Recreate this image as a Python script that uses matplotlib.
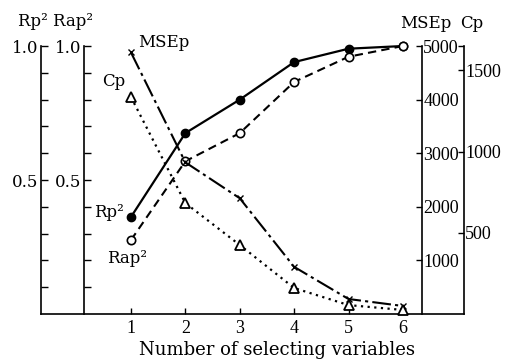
import matplotlib
matplotlib.use("Agg")
import matplotlib.pyplot as plt
from matplotlib.ticker import FixedLocator

plt.rcParams['font.family'] = ['DejaVu Serif']

n_vars = [1, 2, 3, 4, 5, 6]
rp2 = [0.362, 0.675, 0.80, 0.94, 0.99, 1.0]
rap2 = [0.276, 0.57, 0.675, 0.866, 0.96, 1.0]
msep = [4880, 2830, 2160, 880, 280, 150]
cp = [1336, 683, 425, 160, 55, 25]

fs = 12
num_font = dict(family='Liberation Serif', size=13)

fig = plt.figure(figsize=(5.07, 3.59), dpi=100)
ax = fig.add_axes([0.0809, 0.1253, 0.834, 0.7465])
ax.set_xlim(-0.654, 7.121)
ax.set_ylim(0, 1.0)
ax.patch.set_visible(False)

# left axes: Rp2 (axes edge) and Rap2 (inner spine)
ax_rap = ax.twinx()
ax_mse = ax.twinx()
ax_cp = ax.twinx()

for a in (ax, ax_rap, ax_mse, ax_cp):
    for s in a.spines.values():
        s.set_visible(False)
        s.set_linewidth(1.2)

ax.spines['left'].set_visible(True)
ax.spines['bottom'].set_visible(True)

ax_rap.yaxis.tick_left()
ax_rap.spines['left'].set_visible(True)
ax_rap.spines['left'].set_position(('axes', 0.1017))
ax_rap.set_ylim(0, 1.0)

ax_mse.spines['right'].set_visible(True)
ax_mse.spines['right'].set_position(('axes', 0.9007))
ax_mse.set_ylim(0, 5000)

ax_cp.spines['right'].set_visible(True)
ax_cp.set_ylim(0, 1650)

for a in (ax, ax_rap):
    a.yaxis.set_major_locator(FixedLocator([0.5, 1.0]))
    a.yaxis.set_minor_locator(FixedLocator([0.1, 0.2, 0.3, 0.4, 0.6, 0.7, 0.8, 0.9]))
    a.set_yticklabels(['0.5', '1.0'])
    a.tick_params(axis='y', which='both', direction='in', length=5, width=1,
                  pad=2, labelsize=fs)

ax_mse.set_yticks([1000, 2000, 3000, 4000, 5000])
ax_mse.set_yticklabels(['1000', '2000', '3000', '4000', '5000'], fontdict=num_font)
ax_mse.tick_params(axis='y', direction='in', length=4, width=1, pad=1)
ax_cp.set_yticks([500, 1000, 1500])
ax_cp.set_yticklabels(['500', '1000', '1500'], fontdict=num_font)
ax_cp.yaxis.set_minor_locator(FixedLocator([1650]))
ax_cp.tick_params(axis='y', which='both', direction='in', length=4, width=1, pad=1)

ax.set_xticks(n_vars)
ax.set_xticklabels([str(v) for v in n_vars], fontdict=num_font)
ax.tick_params(axis='x', direction='in', length=4, width=1, pad=4)
ax.set_xlabel('Number of selecting variables', fontsize=13)
ax.xaxis.label.set_va('center')
ax.xaxis.set_label_coords(0.559, -0.134)

ax.plot(n_vars, rp2, '-', color='black', lw=1.6, marker='o', ms=6,
        mfc='black', mec='black', clip_on=False, zorder=5)
ax.plot(n_vars, rap2, color='black', lw=1.5, ls=(0, (4, 2.5)), marker='o', ms=6,
        mfc='white', mec='black', mew=1.2, clip_on=False, zorder=5)
ax_mse.plot(n_vars, msep, color='black', lw=1.5, ls=(0, (9, 2, 1.5, 2)), marker='x',
            ms=5, mew=1, clip_on=False, zorder=5)
ax_cp.plot(n_vars, cp, color='black', lw=1.6, ls=(0, (1, 2)), marker='^', ms=7,
           mfc='white', mec='black', mew=1.3, clip_on=False, zorder=5)

ax_mse.annotate('MSEp', (n_vars[0], msep[0]), xytext=(5, 1), textcoords='offset points',
                fontsize=fs, ha='left', va='bottom')
ax_cp.annotate('Cp', (n_vars[0], cp[0]), xytext=(-21, 5), textcoords='offset points',
               fontsize=fs, ha='left', va='bottom')
ax.annotate('Rp\u00b2', (n_vars[0], rp2[0]), xytext=(-5, 3), textcoords='offset points',
            fontsize=fs, ha='right', va='center')
ax.annotate('Rap\u00b2', (n_vars[0], rap2[0]), xytext=(-17, -13), textcoords='offset points',
            fontsize=fs, ha='left', va='center')

fig.text(18 / 507, 1 - 22 / 359, 'Rp\u00b2 Rap\u00b2', fontsize=fs, ha='left', va='center')
fig.text(400 / 507, 1 - 23 / 359, 'MSEp', fontsize=fs, ha='left', va='center')
fig.text(460 / 507, 1 - 23 / 359, 'Cp', fontsize=fs, ha='left', va='center')

fig.savefig('out.png', dpi=100)
